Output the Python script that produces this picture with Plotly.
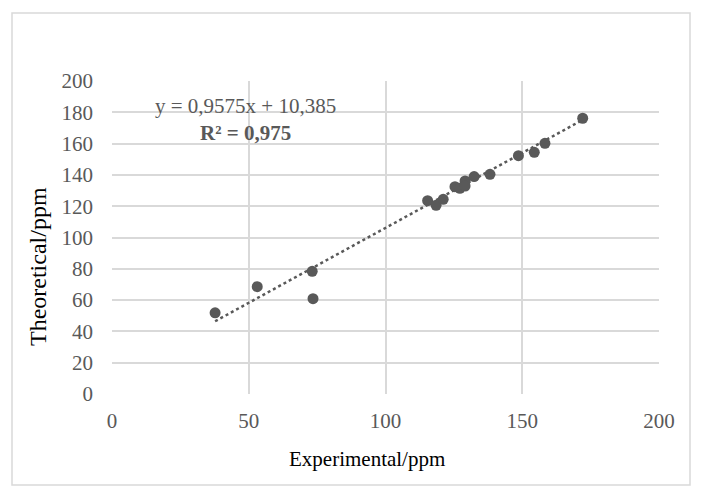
import plotly.graph_objects as go

experimental = [37.7, 53.1, 73.2, 73.5, 115.4, 118.5, 121.1, 125.4, 127.2, 129.1, 129.1,
                132.4, 138.2, 148.6, 154.4, 158.3, 172.1]
theoretical = [51.9, 68.6, 78.4, 60.9, 123.5, 120.6, 124.4, 132.5, 131.4, 136.1, 132.9,
               138.9, 140.4, 152.3, 154.4, 160.2, 176.2]
slope = 0.9575
intercept = 10.385
r2_text = "R² = 0,975"
eq_text = "y = 0,9575x + 10,385"
x_title = "Experimental/ppm"
y_title = "Theoretical/ppm"
x_ticks = [0, 50, 100, 150, 200]
y_ticks = [0, 20, 40, 60, 80, 100, 120, 140, 160, 180, 200]

xmin, xmax = min(experimental), max(experimental)
trend_x = [xmin, xmax]
trend_y = [slope * v + intercept for v in trend_x]

font = "Liberation Serif, Times New Roman, serif"
grey = "#595959"

# pixel -> paper helpers (plot area: x 112..659, y 81..394)
def px(p):
    return (p - 112) / 547

def py(p):
    return (394 - p) / 313

fig = go.Figure()
fig.add_trace(go.Scatter(x=trend_x, y=trend_y, mode="lines",
                         line=dict(color=grey, width=2.5, dash="dot"),
                         hoverinfo="skip", showlegend=False))
fig.add_trace(go.Scatter(x=experimental, y=theoretical, mode="markers",
                         marker=dict(color=grey, size=11), showlegend=False))

fig.update_layout(
    width=705, height=500,
    margin=dict(l=112, r=46, t=81, b=106),
    paper_bgcolor="white", plot_bgcolor="white",
    font=dict(family=font, size=21, color=grey),
    xaxis=dict(range=[0, 200], tickvals=x_ticks, showgrid=True, gridcolor="#d9d9d9",
               gridwidth=1.5, zeroline=False, showline=False,
               ticklabelstandoff=12, fixedrange=True),
    yaxis=dict(range=[0, 200], tickvals=y_ticks, showgrid=True, gridcolor="#d9d9d9",
               gridwidth=1.5, zeroline=False, showline=False,
               ticklabelstandoff=18, fixedrange=True),
    shapes=[dict(type="rect", xref="paper", yref="paper",
                 x0=px(12), x1=px(690), y0=py(485), y1=py(13),
                 line=dict(color="#d9d9d9", width=1.5), fillcolor="rgba(0,0,0,0)", layer="below")],
    annotations=[
        dict(text=x_title, xref="paper", yref="paper", x=px(367), y=py(459),
             showarrow=False, xanchor="center", yanchor="middle",
             font=dict(family=font, size=21, color="black")),
        dict(text=y_title, xref="paper", yref="paper", x=px(38), y=py(267),
             showarrow=False, xanchor="center", yanchor="middle", textangle=-90,
             font=dict(family=font, size=24, color="black")),
        dict(text=eq_text + "<br><b>" + r2_text + "</b>", xref="paper", yref="paper",
             x=px(245), y=py(119), showarrow=False, xanchor="center", yanchor="middle",
             align="center", font=dict(family=font, size=21, color=grey)),
    ],
)

fig.write_html("out.html")
